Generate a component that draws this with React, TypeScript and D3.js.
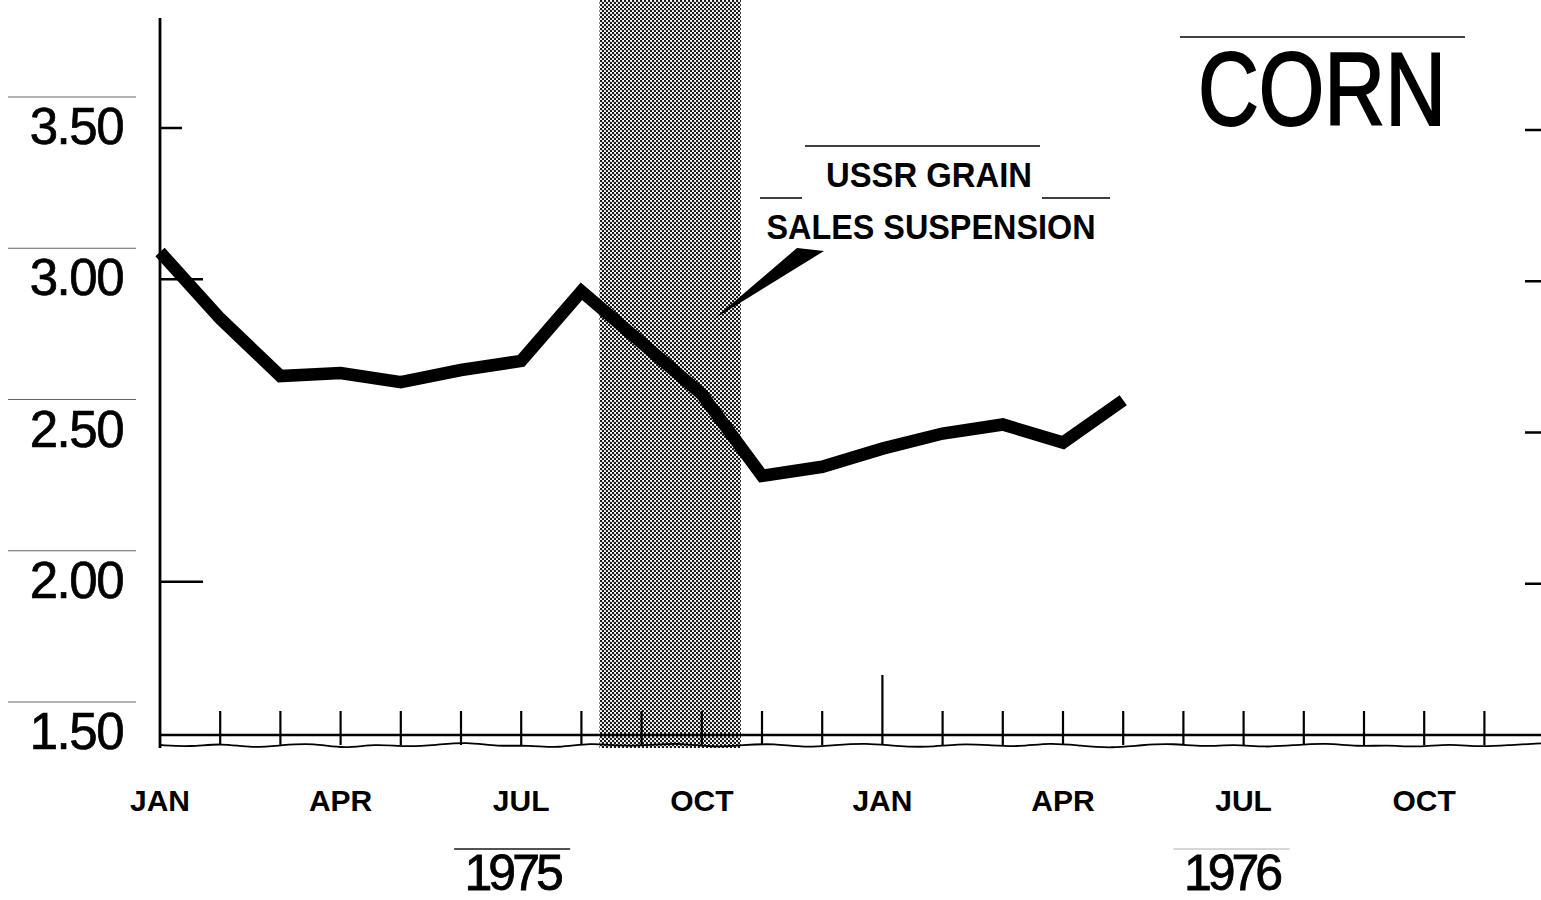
import React, { useEffect, useRef } from "react";
import * as d3 from "d3";

// month index 0 = JAN 1975
const priceMonths = [0, 1, 2, 3, 4, 5, 6, 7, 8, 9, 10, 11, 12, 13, 14, 15, 16];
const prices = [3.09, 2.87, 2.68, 2.69, 2.66, 2.7, 2.73, 2.96, 2.79, 2.62, 2.35, 2.38, 2.44, 2.49, 2.52, 2.46, 2.6];

const yTicks = [1.5, 2.0, 2.5, 3.0, 3.5];
const yTickLabels = ["1.50", "2.00", "2.50", "3.00", "3.50"];

const monthLabels = ["JAN", "APR", "JUL", "OCT", "JAN", "APR", "JUL", "OCT"];
const monthLabelIdx = [0, 3, 6, 9, 12, 15, 18, 21];
const tickIdx = [1, 2, 3, 4, 5, 6, 7, 8, 9, 10, 11, 12, 13, 14, 15, 16, 17, 18, 19, 20, 21, 22];

const years = ["1975", "1976"];
const yearCenterIdx = [5.85, 17.8];

// suspension period (month index)
const shadeStart = 7.3;
const shadeEnd = 9.65;

// small wobble of the broken-axis line
const wobble = [0, 0.5, -0.5, 0.8, 0, -0.5, 1, -0.3, 0.5, 0, -0.8, 0.4, 0, 0.8, -0.6, 0.3, 0, -0.5, 0.6, 0, -0.4, 0.7, 0, -0.5, 0.3, 0.6, -0.3, 0, 0.5, -0.6, 0.2, 0.8, 0, -0.4, 0.5, -0.2, 0.6, 0, -0.5, 0.4, 0, 0.6, -0.3, 0.5, 0, -0.4];

const FONT = "Liberation Sans, Arial, sans-serif";

const App: React.FC = () => {
  const svgRef = useRef<SVGSVGElement | null>(null);

  useEffect(() => {
    if (!svgRef.current) return;
    const width = 1541;
    const height = 900;
    const svg = d3.select(svgRef.current);
    svg.selectAll("*").remove();

    const x = d3.scaleLinear().domain([0, 23]).range([160, 160 + 60.2 * 23]);
    const y = d3.scaleLinear().domain([1.5, 3.5]).range([733, 128]);
    const axisY = 735;

    const defs = svg.append("defs");
    const pat = defs
      .append("pattern")
      .attr("id", "halftone")
      .attr("patternUnits", "userSpaceOnUse")
      .attr("width", 4)
      .attr("height", 4);
    pat.append("rect").attr("width", 4).attr("height", 4).attr("fill", "#fff");
    pat.append("circle").attr("cx", 1).attr("cy", 1).attr("r", 1.2).attr("fill", "#111");
    pat.append("circle").attr("cx", 3).attr("cy", 3).attr("r", 1.2).attr("fill", "#111");

    svg.append("rect").attr("width", width).attr("height", height).attr("fill", "#fff");

    // shaded period
    svg
      .append("rect")
      .attr("x", x(shadeStart))
      .attr("y", 0)
      .attr("width", x(shadeEnd) - x(shadeStart))
      .attr("height", 748)
      .attr("fill", "url(#halftone)");

    // vertical axis
    svg
      .append("line")
      .attr("x1", 160)
      .attr("x2", 160)
      .attr("y1", 18)
      .attr("y2", 748)
      .attr("stroke", "#000")
      .attr("stroke-width", 2.8);

    // y ticks + labels
    yTicks.forEach((v, i) => {
      const yy = y(v);
      if (v > 1.5 && v !== 2.5) {
        svg
          .append("line")
          .attr("x1", 160)
          .attr("x2", v === 3.5 ? 182 : 203)
          .attr("y1", yy)
          .attr("y2", yy)
          .attr("stroke", "#000")
          .attr("stroke-width", 2.5);
      }
      if (v > 1.5) {
        svg
          .append("line")
          .attr("x1", 1525)
          .attr("x2", 1541)
          .attr("y1", yy + 2)
          .attr("y2", yy + 2)
          .attr("stroke", "#000")
          .attr("stroke-width", 2.5);
      }
      svg
        .append("text")
        .attr("x", 123)
        .attr("y", yy + 16)
        .attr("text-anchor", "end")
        .attr("font-family", FONT)
        .attr("font-size", 51)
        .attr("letter-spacing", -1.5)
        .attr("fill", "#000")
        .attr("stroke", "#000")
        .attr("stroke-width", 0.7)
        .text(yTickLabels[i]);
      svg
        .append("line")
        .attr("x1", 8)
        .attr("x2", 136)
        .attr("y1", yy - 31)
        .attr("y2", yy - 31)
        .attr("stroke", "#000")
        .attr("stroke-width", 1)
        .attr("opacity", 0.6);
    });

    // horizontal axis
    svg
      .append("line")
      .attr("x1", 160)
      .attr("x2", width)
      .attr("y1", axisY)
      .attr("y2", axisY)
      .attr("stroke", "#000")
      .attr("stroke-width", 2.5);

    svg
      .selectAll(".mtick")
      .data(tickIdx)
      .join("line")
      .attr("x1", (d) => x(d))
      .attr("x2", (d) => x(d))
      .attr("y1", (d) => (d === 12 ? 675 : 711))
      .attr("y2", axisY + 10)
      .attr("stroke", "#000")
      .attr("stroke-width", 2.2);

    // wavy break line
    const wavePts: [number, number][] = wobble.map((w, i) => [
      160 + (i * (width - 160)) / (wobble.length - 1),
      axisY + 10 + w * 4,
    ]);
    svg
      .append("path")
      .attr("d", d3.line().curve(d3.curveBasis)(wavePts) || "")
      .attr("fill", "none")
      .attr("stroke", "#000")
      .attr("stroke-width", 1.8);

    // month labels
    svg
      .selectAll(".mlabel")
      .data(monthLabels)
      .join("text")
      .attr("x", (d, i) => x(monthLabelIdx[i]))
      .attr("y", 811)
      .attr("text-anchor", "middle")
      .attr("font-family", FONT)
      .attr("font-weight", "bold")
      .attr("font-size", 30)
      .attr("fill", "#000")
      .text((d) => d);

    // year labels
    years.forEach((yr, i) => {
      const cx = x(yearCenterIdx[i]);
      svg
        .append("text")
        .attr("x", cx)
        .attr("y", 890)
        .attr("text-anchor", "middle")
        .attr("font-family", FONT)
        .attr("font-size", 50)
        .attr("letter-spacing", -4)
        .attr("fill", "#000")
        .attr("stroke", "#000")
        .attr("stroke-width", 0.8)
        .text(yr);
      svg
        .append("line")
        .attr("x1", cx - 58)
        .attr("x2", cx + 58)
        .attr("y1", 849)
        .attr("y2", 849)
        .attr("stroke", "#000")
        .attr("stroke-width", i === 0 ? 1.5 : 0.8)
        .attr("opacity", i === 0 ? 0.9 : 0.4);
    });

    // price line
    const line = d3
      .line<number>()
      .x((d, i) => x(priceMonths[i]))
      .y((d) => y(d));
    svg
      .append("path")
      .datum(prices)
      .attr("d", line)
      .attr("fill", "none")
      .attr("stroke", "#000")
      .attr("stroke-width", 12.5)
      .attr("stroke-linejoin", "miter");

    // annotation pointer
    svg
      .append("polygon")
      .attr("points", "714,319 797,248 824,251")
      .attr("fill", "#000");

    const ann = svg
      .append("g")
      .attr("font-family", FONT)
      .attr("font-weight", "bold")
      .attr("font-size", 35)
      .attr("fill", "#000");
    ann
      .append("text")
      .attr("x", 929)
      .attr("y", 187)
      .attr("text-anchor", "middle")
      .attr("textLength", 206)
      .attr("lengthAdjust", "spacingAndGlyphs")
      .text("USSR GRAIN");
    ann
      .append("text")
      .attr("x", 931)
      .attr("y", 239)
      .attr("text-anchor", "middle")
      .attr("textLength", 329)
      .attr("lengthAdjust", "spacingAndGlyphs")
      .text("SALES SUSPENSION");
    const rules: [number, number, number][] = [
      [805, 1040, 146],
      [760, 802, 198],
      [1042, 1110, 198],
    ];
    rules.forEach(([a, b, yy]) =>
      svg
        .append("line")
        .attr("x1", a)
        .attr("x2", b)
        .attr("y1", yy)
        .attr("y2", yy)
        .attr("stroke", "#000")
        .attr("stroke-width", 1.5)
    );

    // title
    svg
      .append("text")
      .attr("x", 1198)
      .attr("y", 125)
      .attr("font-family", FONT)
      .attr("font-size", 104)
      .attr("textLength", 248)
      .attr("lengthAdjust", "spacingAndGlyphs")
      .attr("fill", "#000")
      .attr("stroke", "#000")
      .attr("stroke-width", 2)
      .text("CORN");
    svg
      .append("line")
      .attr("x1", 1180)
      .attr("x2", 1465)
      .attr("y1", 37)
      .attr("y2", 37)
      .attr("stroke", "#000")
      .attr("stroke-width", 1.5);
  }, []);

  return (
    <svg
      ref={svgRef}
      width={1541}
      height={900}
      style={{ position: "absolute", left: 0, top: 0, display: "block" }}
    ></svg>
  );
};

export default App;
